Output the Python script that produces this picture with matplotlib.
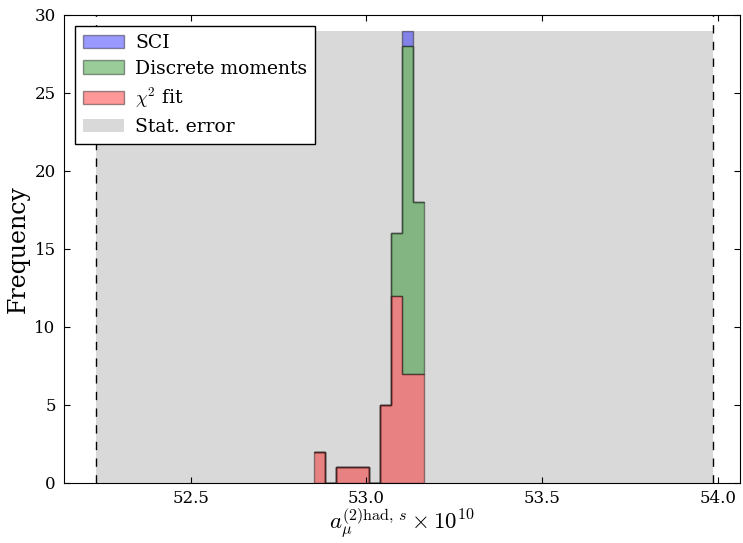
import numpy as np
import matplotlib
matplotlib.use('Agg')
import matplotlib.pyplot as plt

# bin edges of the common histogram (10 bins)
bin_lo, bin_hi = 52.851, 53.164
edges = np.linspace(bin_lo, bin_hi, 11)
centers = 0.5 * (edges[:-1] + edges[1:])

# counts per bin (stacked: chi2 at bottom, then discrete moments, then SCI)
chi2_counts = [2, 0, 1, 1, 1, 0, 5, 12, 7, 7]
dm_counts = [0, 0, 0, 0, 0, 0, 0, 4, 21, 11]
sci_counts = [0, 0, 0, 0, 0, 0, 0, 0, 1, 0]

labels = [r'$\chi^2$ fit', 'Discrete moments', 'SCI']
colors = ['r', 'g', 'b']

# statistical error band
err_lo, err_hi = 52.230, 53.985
err_top = 29

plt.rcParams['font.family'] = 'DejaVu Serif'
plt.rcParams['mathtext.fontset'] = 'cm'
plt.rcParams['xtick.direction'] = 'in'
plt.rcParams['ytick.direction'] = 'in'
plt.rcParams['xtick.top'] = True
plt.rcParams['ytick.right'] = True
plt.rcParams['xtick.major.size'] = 4
plt.rcParams['ytick.major.size'] = 4
plt.rcParams['xtick.major.pad'] = 5
plt.rcParams['ytick.major.pad'] = 6

fig = plt.figure(figsize=(7.43, 5.43), dpi=100)
ax = fig.add_axes([0.0861, 0.1105, 0.9099, 0.8619])

ax.fill_between([err_lo, err_hi], 0, err_top, color='k', alpha=0.15, lw=0,
                label='Stat. error')
ax.axvline(err_lo, color='k', ls=(0, (6, 6)), lw=1)
ax.axvline(err_hi, color='k', ls=(0, (6, 6)), lw=1)

ax.hist([centers, centers, centers], bins=edges,
        weights=[chi2_counts, dm_counts, sci_counts],
        histtype='stepfilled', stacked=True, color=colors, alpha=0.4,
        edgecolor='k', lw=1, label=labels)

h, l = ax.get_legend_handles_labels()
order = [l.index('SCI'), l.index('Discrete moments'), l.index(r'$\chi^2$ fit'),
         l.index('Stat. error')]
leg = ax.legend([h[i] for i in order], [l[i] for i in order], loc='upper left',
                fontsize=13.5, fancybox=False, framealpha=1, borderaxespad=0.6,
                handlelength=2.2, handletextpad=0.6, labelspacing=0.42,
                borderpad=0.4)
leg.get_frame().set_edgecolor('k')

ax.set_xlim(52.14, 54.062)
ax.set_ylim(0, 30)
ax.set_xticks([52.5, 53.0, 53.5, 54.0])
ax.set_yticks([0, 5, 10, 15, 20, 25, 30])
ax.tick_params(labelsize=12)
ax.set_xlabel(r'$a_{\mu}^{(2)\mathrm{had},\,s}\times 10^{10}$', fontsize=16.5,
              labelpad=0)
ax.set_ylabel('Frequency', fontsize=17, labelpad=3)

fig.savefig('out.png', dpi=100)
